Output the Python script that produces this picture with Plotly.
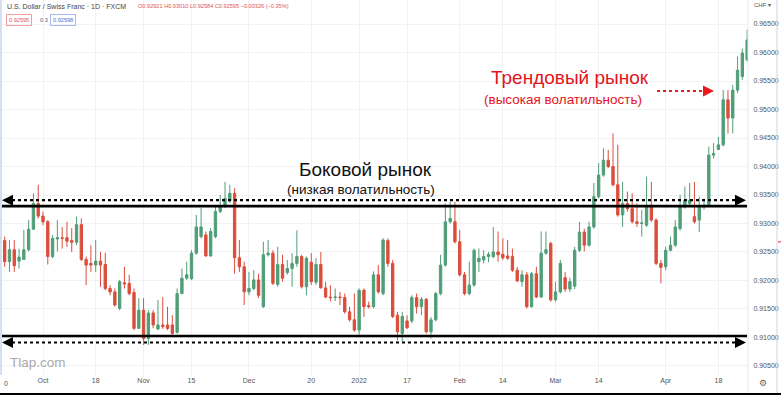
import pandas as pd
import plotly.graph_objects as go

# ---------------- data ----------------
dates = pd.bdate_range("2021-09-21", "2022-04-26").strftime("%Y-%m-%d").tolist()

open_ = [0.9270, 0.9233, 0.9254, 0.9234, 0.9237, 0.9254, 0.9290, 0.9335,
         0.9313, 0.9303, 0.9242, 0.9273, 0.9275, 0.9275, 0.9270, 0.9267, 0.9298, 0.9237,
         0.9230, 0.9227, 0.9234, 0.9228, 0.9186, 0.9180, 0.9151, 0.9196, 0.9195, 0.9179,
         0.9116, 0.9148, 0.9098, 0.9143, 0.9115, 0.9122, 0.9122, 0.9122, 0.9109, 0.9177,
         0.9204, 0.9203, 0.9248, 0.9277, 0.9280, 0.9243, 0.9277, 0.9321, 0.9330, 0.9340,
         0.9353, 0.9240, 0.9224, 0.9180, 0.9186, 0.9201, 0.9154, 0.9245, 0.9248, 0.9193,
         0.9228, 0.9214, 0.9221, 0.9230, 0.9242, 0.9189, 0.9232, 0.9197, 0.9228, 0.9187,
         0.9171, 0.9170, 0.9171, 0.9170, 0.9145, 0.9131, 0.9113, 0.9183, 0.9156, 0.9154,
         0.9210, 0.9177, 0.9270, 0.9230, 0.9139, 0.9107, 0.9129, 0.9129, 0.9170, 0.9154,
         0.9167, 0.9110, 0.9131, 0.9177, 0.9227, 0.9303, 0.9303, 0.9268, 0.9210, 0.9177,
         0.9192, 0.9233, 0.9236, 0.9242, 0.9242, 0.9250, 0.9246, 0.9243, 0.9242, 0.9218,
         0.9198, 0.9210, 0.9154, 0.9212, 0.9171, 0.9248, 0.9265, 0.9166, 0.9180, 0.9205,
         0.9185, 0.9190, 0.9253, 0.9285, 0.9262, 0.9294, 0.9347, 0.9385, 0.9411, 0.9400,
         0.9368, 0.9315, 0.9335, 0.9326, 0.9303, 0.9300, 0.9297, 0.9332, 0.9306, 0.9230,
         0.9224, 0.9253, 0.9262, 0.9291, 0.9329, 0.9335, 0.9312, 0.9306, 0.9329, 0.9332,
         0.9420, 0.9430, 0.9438, 0.9517, 0.9485, 0.9534, 0.9558, 0.9587]
high = [0.9277, 0.9271, 0.9271, 0.9256, 0.9289, 0.9306, 0.9353, 0.9368,
        0.9321, 0.9306, 0.9280, 0.9306, 0.9294, 0.9303, 0.9292, 0.9312, 0.9309, 0.9242,
        0.9262, 0.9271, 0.9250, 0.9249, 0.9192, 0.9186, 0.9201, 0.9224, 0.9210, 0.9186,
        0.9169, 0.9169, 0.9148, 0.9148, 0.9166, 0.9171, 0.9154, 0.9139, 0.9186, 0.9221,
        0.9233, 0.9253, 0.9315, 0.9327, 0.9286, 0.9292, 0.9330, 0.9350, 0.9373, 0.9368,
        0.9362, 0.9271, 0.9233, 0.9215, 0.9218, 0.9212, 0.9268, 0.9271, 0.9253, 0.9259,
        0.9245, 0.9236, 0.9248, 0.9288, 0.9245, 0.9242, 0.9248, 0.9239, 0.9250, 0.9198,
        0.9192, 0.9186, 0.9180, 0.9177, 0.9154, 0.9177, 0.9186, 0.9186, 0.9163, 0.9216,
        0.9227, 0.9274, 0.9274, 0.9236, 0.9145, 0.9145, 0.9139, 0.9174, 0.9177, 0.9171,
        0.9169, 0.9136, 0.9180, 0.9245, 0.9335, 0.9338, 0.9338, 0.9289, 0.9215, 0.9233,
        0.9256, 0.9256, 0.9253, 0.9250, 0.9294, 0.9286, 0.9274, 0.9271, 0.9256, 0.9224,
        0.9218, 0.9215, 0.9215, 0.9224, 0.9286, 0.9286, 0.9268, 0.9198, 0.9236, 0.9215,
        0.9205, 0.9259, 0.9303, 0.9291, 0.9303, 0.9371, 0.9406, 0.9432, 0.9429, 0.9458,
        0.9438, 0.9373, 0.9356, 0.9353, 0.9335, 0.9324, 0.9382, 0.9373, 0.9309, 0.9236,
        0.9259, 0.9277, 0.9306, 0.9350, 0.9365, 0.9371, 0.9373, 0.9347, 0.9344, 0.9435,
        0.9441, 0.9452, 0.9534, 0.9534, 0.9543, 0.9593, 0.9607, 0.9640]
low = [0.9224, 0.9215, 0.9215, 0.9221, 0.9236, 0.9251, 0.9289, 0.9309,
       0.9297, 0.9228, 0.9239, 0.9251, 0.9256, 0.9259, 0.9250, 0.9262, 0.9234, 0.9192,
       0.9215, 0.9215, 0.9189, 0.9183, 0.9174, 0.9154, 0.9148, 0.9186, 0.9174, 0.9113,
       0.9115, 0.9087, 0.9087, 0.9116, 0.9113, 0.9115, 0.9113, 0.9105, 0.9107, 0.9176,
       0.9201, 0.9201, 0.9245, 0.9274, 0.9242, 0.9242, 0.9274, 0.9318, 0.9327, 0.9336,
       0.9212, 0.9215, 0.9157, 0.9174, 0.9183, 0.9169, 0.9152, 0.9242, 0.9192, 0.9189,
       0.9198, 0.9210, 0.9189, 0.9224, 0.9186, 0.9174, 0.9192, 0.9192, 0.9186, 0.9169,
       0.9163, 0.9164, 0.9157, 0.9142, 0.9128, 0.9110, 0.9105, 0.9136, 0.9151, 0.9151,
       0.9177, 0.9174, 0.9224, 0.9134, 0.9095, 0.9093, 0.9115, 0.9125, 0.9142, 0.9139,
       0.9107, 0.9098, 0.9128, 0.9174, 0.9224, 0.9300, 0.9265, 0.9207, 0.9174, 0.9174,
       0.9189, 0.9215, 0.9230, 0.9232, 0.9239, 0.9233, 0.9236, 0.9236, 0.9215, 0.9198,
       0.9189, 0.9151, 0.9152, 0.9169, 0.9170, 0.9245, 0.9163, 0.9163, 0.9177, 0.9180,
       0.9180, 0.9185, 0.9250, 0.9251, 0.9259, 0.9291, 0.9344, 0.9382, 0.9397, 0.9365,
       0.9312, 0.9294, 0.9321, 0.9300, 0.9294, 0.9277, 0.9294, 0.9303, 0.9227, 0.9195,
       0.9218, 0.9251, 0.9259, 0.9288, 0.9326, 0.9329, 0.9300, 0.9285, 0.9324, 0.9329,
       0.9414, 0.9429, 0.9435, 0.9458, 0.9458, 0.9529, 0.9552, 0.9584]
close = [0.9233, 0.9254, 0.9226, 0.9241, 0.9254, 0.9290, 0.9335, 0.9313,
         0.9303, 0.9242, 0.9274, 0.9275, 0.9274, 0.9269, 0.9267, 0.9298, 0.9237, 0.9227,
         0.9227, 0.9234, 0.9227, 0.9186, 0.9180, 0.9157, 0.9198, 0.9194, 0.9177, 0.9116,
         0.9148, 0.9098, 0.9143, 0.9122, 0.9122, 0.9119, 0.9116, 0.9107, 0.9177, 0.9204,
         0.9210, 0.9248, 0.9294, 0.9294, 0.9243, 0.9286, 0.9321, 0.9330, 0.9344, 0.9353,
         0.9240, 0.9224, 0.9180, 0.9186, 0.9201, 0.9174, 0.9245, 0.9248, 0.9195, 0.9228,
         0.9204, 0.9221, 0.9230, 0.9242, 0.9189, 0.9239, 0.9198, 0.9228, 0.9187, 0.9171,
         0.9170, 0.9171, 0.9170, 0.9145, 0.9131, 0.9113, 0.9183, 0.9154, 0.9154, 0.9210,
         0.9180, 0.9271, 0.9230, 0.9137, 0.9110, 0.9137, 0.9117, 0.9170, 0.9154, 0.9167,
         0.9110, 0.9131, 0.9177, 0.9227, 0.9303, 0.9309, 0.9268, 0.9210, 0.9177, 0.9192,
         0.9253, 0.9239, 0.9242, 0.9246, 0.9250, 0.9245, 0.9240, 0.9239, 0.9218, 0.9199,
         0.9210, 0.9154, 0.9212, 0.9171, 0.9248, 0.9254, 0.9166, 0.9180, 0.9230, 0.9185,
         0.9198, 0.9253, 0.9285, 0.9262, 0.9294, 0.9347, 0.9385, 0.9411, 0.9400, 0.9368,
         0.9315, 0.9335, 0.9326, 0.9303, 0.9300, 0.9301, 0.9332, 0.9306, 0.9230, 0.9223,
         0.9253, 0.9262, 0.9294, 0.9329, 0.9341, 0.9341, 0.9303, 0.9329, 0.9332, 0.9420,
         0.9423, 0.9438, 0.9517, 0.9485, 0.9534, 0.9569, 0.9599, 0.9622]

tick_dates = ["2021-10-01", "2021-10-18", "2021-11-01", "2021-11-15", "2021-12-01",
              "2021-12-20", "2022-01-03", "2022-01-17", "2022-02-01", "2022-02-14",
              "2022-03-01", "2022-03-14", "2022-04-01", "2022-04-18"]
tick_labels = ["Oct", "18", "Nov", "15", "Dec", "20", "2022", "17", "Feb", "14",
               "Mar", "14", "Apr", "18"]

range_levels = [0.93305, 0.91025]      # solid support/resistance lines
dotted_levels = [0.93410, 0.90912]     # dotted double arrows
trend_arrow_level = 0.95325

# ---------------- layout helpers ----------------
W, H = 781, 395
PW, PH = 748, 375
def px(x):
    return x / PW
def py(y):
    return 1 - y / PH

FONT = "Liberation Sans, Arial, sans-serif"
GREEN = "#4f9e78"
RED = "#db4d3b"

fig = go.Figure()
fig.add_trace(go.Candlestick(
    x=dates, open=open_, high=high, low=low, close=close,
    increasing=dict(line=dict(color=GREEN, width=1), fillcolor=GREEN),
    decreasing=dict(line=dict(color=RED, width=1), fillcolor=RED),
    whiskerwidth=0, showlegend=False, hoverinfo="skip",
))

shapes = []
for lv in range_levels:
    shapes.append(dict(type="line", xref="paper", yref="y", x0=0, x1=px(747),
                       y0=lv, y1=lv, line=dict(color="black", width=2.6)))
for lv in dotted_levels:
    shapes.append(dict(type="line", xref="paper", yref="y", x0=px(6), x1=px(741),
                       y0=lv, y1=lv, line=dict(color="black", width=2.2, dash="dot")))
shapes.append(dict(type="line", xref="paper", yref="y", x0=px(657), x1=px(707),
                   y0=trend_arrow_level, y1=trend_arrow_level,
                   line=dict(color="#e8191f", width=2, dash="dot")))
# left edge tint and borders
shapes.append(dict(type="rect", xref="paper", yref="paper", x0=0, x1=px(2), y0=0, y1=1,
                   line=dict(width=0), fillcolor="#d5e1f0"))
shapes.append(dict(type="line", xref="paper", yref="paper", x0=px(748), x1=px(748),
                   y0=py(395), y1=1, line=dict(color="#e6e8ee", width=1)))
shapes.append(dict(type="line", xref="paper", yref="paper", x0=0, x1=px(781),
                   y0=py(394), y1=py(394), line=dict(color="black", width=2)))
shapes.append(dict(type="line", xref="paper", yref="paper", x0=px(777), x1=px(777),
                   y0=py(393), y1=1, line=dict(color="#d0d4dc", width=1)))
shapes.append(dict(type="rect", xref="paper", yref="y", x0=px(778), x1=px(781),
                   y0=0.92668, y1=0.92688, line=dict(width=0), fillcolor="#f23645"))

ann = []
def arrowhead(xpix, level, direction, color="black", width=2):
    ann.append(dict(xref="paper", yref="y", x=px(xpix), y=level, text="",
                    showarrow=True, arrowhead=2, arrowsize=1.1, arrowwidth=width,
                    arrowcolor=color, ax=-7 * direction, ay=0))

for lv in dotted_levels:
    arrowhead(2, lv, -1)
    arrowhead(746, lv, 1)
arrowhead(714, trend_arrow_level, 1, color="#e8191f", width=2)

def text(x, y, s, size, color, anchor="center", **kw):
    ann.append(dict(xref="paper", yref="paper", x=px(x), y=py(y), text=s,
                    showarrow=False, xanchor=anchor, yanchor="middle",
                    font=dict(family=FONT, size=size, color=color), **kw))

text(570, 78, "Трендовый рынок", 19, "#e3141b", borderpad=0)
text(563, 99, "(высокая волатильность)", 13.5, "#e3141b", borderpad=0)
text(365, 169, "Боковой рынок", 19, "#111111", borderpad=0)
text(361, 189, "(низкая волатильность)", 13.5, "#111111", borderpad=0)
text(8, 362, "Tlap.com", 13.5, "#a9a9a9", anchor="left")

text(5, 6, "U.S. Dollar / Swiss Franc · 1D · FXCM", 7, "#444444", anchor="left")
text(136, 6, "O0.92921 H0.93010 L0.92584 C0.92595 −0.00326 (−0.35%)", 5.6, "#e0555a", anchor="left")
text(6, 20, "0.92595", 5.6, "#e0555a", anchor="left", bordercolor="#f0a0a0", borderwidth=1, borderpad=2)
text(38, 20, "0.3", 5.6, "#666666", anchor="left")
text(50, 20, "0.92598", 5.6, "#4a6fd8", anchor="left", bordercolor="#a8b8f0", borderwidth=1, borderpad=2)
text(752, 5, "CHF ▾", 6, "#555555", anchor="left")
text(763, 383, "⚙", 9, "#666666")
text(2, 383, "0", 7, "#555555", anchor="left")

fig.update_layout(
    width=W, height=H,
    margin=dict(l=0, r=W - PW, t=0, b=H - PH),
    paper_bgcolor="white", plot_bgcolor="white",
    shapes=shapes, annotations=ann, showlegend=False,
    font=dict(family=FONT),
    xaxis=dict(type="category", range=[-0.977, 155.18], rangeslider=dict(visible=False),
               tickvals=tick_dates, ticktext=tick_labels, tickangle=0,
               showgrid=True, gridcolor="#f0f2f6", gridwidth=1,
               tickfont=dict(size=7, color="#555555"), ticks="", showline=False,
               zeroline=False, fixedrange=True),
    yaxis=dict(side="right", range=[0.90342, 0.96921], dtick=0.005, tick0=0.905,
               tickformat=".5f", showgrid=True, gridcolor="#f0f2f6", gridwidth=1,
               tickfont=dict(size=7, color="#555555"), ticks="outside", ticklen=3,
               tickcolor="rgba(0,0,0,0)", showline=False, zeroline=False, fixedrange=True),
)

fig.write_html("out.html")
